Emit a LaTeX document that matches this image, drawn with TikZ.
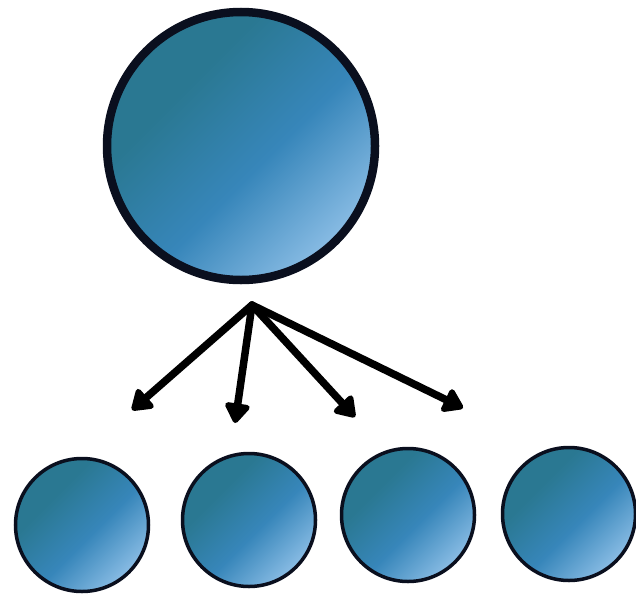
\documentclass[tikz,border=0pt]{standalone}
\usetikzlibrary{arrows.meta}
\definecolor{darkb}{HTML}{2A7892}
\definecolor{midb}{HTML}{3786BA}
\definecolor{lightb}{HTML}{A6CFF3}
\definecolor{rim}{HTML}{0A0F1E}
\pgfdeclareverticalshading{ballshade}{100bp}{color(0bp)=(lightb); color(18bp)=(lightb); color(45bp)=(midb); color(65bp)=(darkb); color(100bp)=(darkb)}
\tikzset{
  ball/.style={circle, inner sep=0pt, draw=rim, shading=ballshade, shading angle=45},
  bigball/.style={ball, line width=8.5pt, minimum size=268pt},
  smallball/.style={ball, line width=3.5pt, minimum size=133pt},
  fanarrow/.style={line width=7.5pt, line cap=round, draw=black, -{Triangle[length=22pt,width=28pt,round]}}
}
\begin{document}
\begin{tikzpicture}[x=1pt,y=-1pt]
\useasboundingbox (0,0) rectangle (636,597);
\node[bigball] (big) at (241,146) {};
\node[smallball] (s1) at (82,525) {};
\node[smallball] (s2) at (249,520) {};
\node[smallball] (s3) at (408,515) {};
\node[smallball] (s4) at (569,514) {};
\coordinate (src) at (252,305);
\coordinate (t1) at (132,410);
\coordinate (t2) at (235,423);
\coordinate (t3) at (355,417);
\coordinate (t4) at (463,408);
\draw[fanarrow] (src) -- (t1);
\draw[fanarrow] (src) -- (t2);
\draw[fanarrow] (src) -- (t3);
\draw[fanarrow] (src) -- (t4);
\end{tikzpicture}
\end{document}
